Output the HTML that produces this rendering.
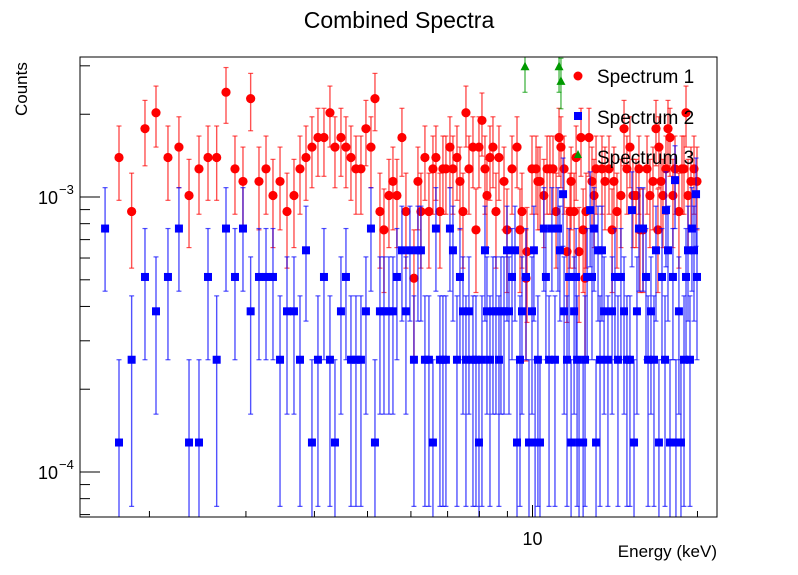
<!DOCTYPE html>
<html><head><meta charset="utf-8">
<style>
html,body{margin:0;padding:0;background:#fff;}
svg{display:block;font-family:"Liberation Sans",Arial,sans-serif;}
</style></head>
<body>
<svg id="chart" width="798" height="575" viewBox="0 0 798 575" xmlns="http://www.w3.org/2000/svg">
<rect x="0" y="0" width="798" height="575" fill="#fff"/>
<text x="399" y="28" text-anchor="middle" font-size="23">Combined Spectra</text>
<text transform="translate(27,116) rotate(-90)" font-size="17">Counts</text>
<text x="717" y="557" text-anchor="end" font-size="17">Energy (keV)</text>
<g id="plot"></g>
<rect x="80" y="57" width="637" height="460" fill="none" stroke="#000" stroke-width="1"/>
<g id="axes"></g>
<g>
  <g>
    <circle cx="578" cy="76" r="4.5" fill="#f00"/>
    <text x="597" y="83" font-size="19">Spectrum 1</text>
  </g>
  <g>
    <rect x="574" y="112" width="8" height="8" fill="#00f"/>
    <text x="597" y="124" font-size="19">Spectrum 2</text>
  </g>
  <g>
    <polygon points="578,150 582,158 574,158" fill="#090"/>
    <text x="597" y="164" font-size="19">Spectrum 3</text>
  </g>
</g>
</svg>
<script>
// ---- data ----
const redEnergy = [1.760,1.856,1.963,2.056,2.162,2.264,2.362,2.463,2.558,2.653,2.759,2.865,2.963,3.060,3.169,3.264,3.361,3.462,3.565,3.671,3.765,
3.861,3.959,4.060,4.164,4.270,4.361,4.472,4.567,4.664,4.763,4.864,4.967,5.073,5.159,5.268,5.358,5.471,5.564,5.658,5.778,5.876,6.077,6.180,6.258,6.364,6.472,6.582,6.665,6.778,6.864,6.951,7.069,7.159,7.281,7.373,7.467,7.561,7.657,7.787,7.886,7.986,8.087,8.190,8.259,8.364,8.470,
8.577,8.686,8.872,8.984,9.175,9.370,9.488,9.568,9.731,9.772,9.979,10.15,10.23,10.32,10.49,10.63,10.76,10.90,11.04,11.18,11.27,11.42,11.56,11.71,11.76,11.91,12.01,12.16,12.26,12.37,12.47,12.52,12.68,12.84,12.95,13.06,
13.39,13.56,13.79,13.97,14.08,14.26,14.50,14.69,14.87,15.06,15.25,15.45,15.64,15.71,15.91,16.18,16.38,16.59,16.80,16.94,17.01,17.16,17.30,17.52,17.67,17.82,18.04,18.20,18.50,18.74,18.90,19.06,19.22,19.46,19.71,19.96];
const redCounts = [11,7,14,16,11,12,8,10,11,11,19,10,9,18,9,10,8,9,7,8,10,
11,12,13,13,16,12,13,12,11,10,10,14,12,18,7,6,8,9,8,13,7,4,9,7,11,7,10,11,7,10,10,12,10,11,9,7,16,10,12,6,12,15,10,8,11,12,
7,11,9,6,10,12,6,7,4,5,10,10,9,9,8,10,10,10,7,13,12,10,5,7,9,7,11,5,13,6,4,7,13,9,8,10,
10,9,10,6,9,7,8,14,10,12,8,8,10,6,6,10,8,9,14,6,12,9,8,10,14,13,8,10,7,10,10,16,8,9,10,9];
const redUnit = 1.266e-4;

const blueEnergy = [1.660,1.760,1.856,1.963,2.056,2.162,2.264,2.362,2.463,2.558,2.653,2.759,2.865,2.963,3.060,3.169,3.264,3.361,3.462,3.565,3.671,3.765,
3.861,3.959,4.060,4.164,4.270,4.361,4.472,4.567,4.664,4.763,4.864,4.967,5.073,5.159,5.268,5.358,5.471,5.564,5.658,5.778,5.876,5.976,6.077,6.180,6.258,6.364,6.472,6.582,6.665,6.778,6.864,6.951,7.069,7.159,7.281,7.373,7.467,7.561,7.657,7.787,7.886,7.986,8.087,8.190,8.259,8.364,8.470,8.577,8.686,
8.759,8.872,8.984,9.060,9.175,9.291,9.370,9.488,9.568,9.731,9.854,9.979,10.06,10.11,10.23,10.32,10.49,10.58,10.72,10.85,10.99,11.13,11.22,11.37,11.42,11.56,11.66,11.76,11.91,12.01,12.06,12.16,12.37,12.47,12.58,12.74,12.84,12.95,13.06,13.17,13.28,
13.39,13.51,13.73,13.97,14.14,14.32,14.50,14.69,14.87,15.06,15.19,15.32,15.51,15.64,15.91,16.11,16.25,16.45,16.66,16.80,17.01,17.23,17.45,17.52,17.67,17.82,18.04,18.20,18.27,18.50,18.66,18.90,19.06,19.22,19.38,19.54,19.71,19.88,19.96];
const blueCounts = [6,1,2,4,3,4,6,1,1,4,2,6,4,6,3,4,4,4,2,3,3,2,
5,1,2,4,2,1,3,4,2,2,2,3,6,1,3,3,3,3,4,5,3,5,2,5,5,2,2,1,6,2,2,2,6,5,2,4,3,2,3,2,2,1,2,5,3,2,3,3,2,
3,3,5,3,4,5,1,2,3,4,1,3,5,1,2,1,6,4,2,6,2,6,5,8,3,2,4,1,3,4,2,1,1,2,4,7,4,6,1,5,2,
5,3,2,3,4,2,4,3,2,2,7,1,3,6,6,4,2,3,2,5,1,4,2,7,5,1,4,9,1,3,1,2,4,5,2,6,5,8,4];
const blueUnit = 1.28e-4;

const greenEnergy = [9.69,11.18,11.27];
const greenCounts = [26,26,23];
const greenUnit = 1.15e-4;

const yMajorTicks = [1e-4,1e-3];
const yMajorLabels = ["4","3"];
const xMajorTicks = [10];
const xMajorLabels = ["10"];
const xMinorTicks = [2,3,4,5,6,7,8,9,20];
const yMinorTicks = [7e-5,8e-5,9e-5,2e-4,3e-4,4e-4,5e-4,6e-4,7e-4,8e-4,9e-4,2e-3,3e-3];

// ---- axes ----
const L=80,R=717,T=57,B=517;
const xMin=1.494,xMax=21.71,yMin=6.86e-5,yMax=3.23e-3;
function xs(v){return L+(Math.log10(v)-Math.log10(xMin))/(Math.log10(xMax)-Math.log10(xMin))*(R-L);}
function ys(v){return B-(Math.log10(v)-Math.log10(yMin))/(Math.log10(yMax)-Math.log10(yMin))*(B-T);}

const NS="http://www.w3.org/2000/svg";
const plot=document.getElementById('plot');
const axes=document.getElementById('axes');
function mk(tag,attrs,parent){const e=document.createElementNS(NS,tag);for(const k in attrs)e.setAttribute(k,attrs[k]);parent.appendChild(e);return e;}

xMinorTicks.forEach(v=>{const x=xs(v);
  const t=mk('line',{x1:x,x2:x,y1:B,y2:B-6,stroke:'#000','stroke-width':1},axes);
  
  });
xMajorTicks.forEach((v,i)=>{const x=xs(v);
  const t=mk('line',{x1:x,x2:x,y1:B,y2:B-12,stroke:'#000','stroke-width':1},axes);
  
  
  const lb=mk('text',{x:x,y:B+28,'text-anchor':'middle','font-size':18},axes);
  lb.textContent=xMajorLabels[i];
  
  });
yMinorTicks.forEach(v=>{const y=ys(v);
  const t=mk('line',{x1:L,x2:L+10,y1:y,y2:y,stroke:'#000','stroke-width':1},axes);
  
  });
yMajorTicks.forEach((v,i)=>{const y=ys(v);
  const t=mk('line',{x1:L,x2:L+20,y1:y,y2:y,stroke:'#000','stroke-width':1},axes);
  
  
  const lb=mk('text',{x:58,y:y+7,'text-anchor':'end','font-size':18},axes);
  lb.textContent='10';
  
  
  const ex=mk('text',{x:59,y:y-3,'font-size':13},axes);
  ex.textContent='\u2212'+yMajorLabels[i];
  
  });

function drawSeries(en,cn,unit,color,barColor,shape,name){
  const g=mk('g',{},plot);
  
  
  for(let i=0;i<en.length;i++){
    const v=cn[i]*unit, e=Math.sqrt(cn[i])*unit;
    const x=xs(en[i]);
    const yc=ys(v);
    let yHi=ys(v+e); let yLo=(v-e)>yMin?ys(v-e):B+2;
    const cap=(v-e)>yMin;
    const top=Math.max(yHi,T);
    const bar=mk('line',{x1:x,x2:x,y1:top,y2:Math.min(yLo,B),stroke:barColor,'stroke-width':1.4},g);
    
    
    if(yHi>=T) mk('line',{x1:x-2.5,x2:x+2.5,y1:yHi,y2:yHi,stroke:barColor,'stroke-width':1.2},g);
    if(cap) mk('line',{x1:x-2.5,x2:x+2.5,y1:yLo,y2:yLo,stroke:barColor,'stroke-width':1.2},g);
    if(yc<T||yc>B) continue;
    let m;
    if(shape==='circle') m=mk('circle',{cx:x,cy:yc,r:4.6,fill:color},g);
    else if(shape==='square') m=mk('rect',{x:x-4,y:yc-4,width:8,height:8,fill:color},g);
    else m=mk('polygon',{points:`${x},${yc-4.5} ${x+4.5},${yc+4} ${x-4.5},${yc+4}`,fill:color},g);
    
    
  }
}
drawSeries(redEnergy,redCounts,redUnit,'#ff0000','rgba(255,0,0,0.68)','circle','series-spectrum-1');
drawSeries(blueEnergy,blueCounts,blueUnit,'#0000ff','rgba(0,0,255,0.68)','square','series-spectrum-2');
drawSeries(greenEnergy,greenCounts,greenUnit,'#009900','rgba(0,153,0,0.68)','triangle','series-spectrum-3');
</script>
</body></html>
